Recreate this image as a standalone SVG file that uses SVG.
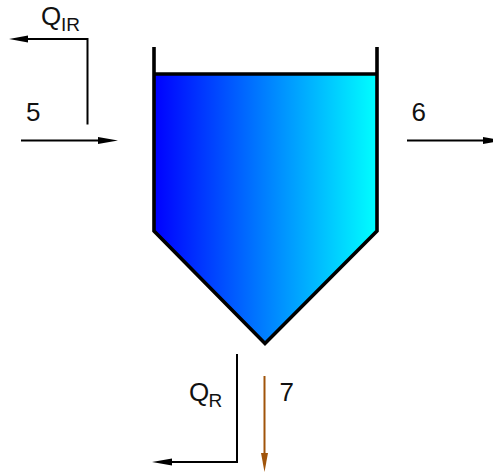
<svg xmlns="http://www.w3.org/2000/svg" width="493" height="472" viewBox="0 0 493 472">
<style>
.lbl{font-family:"Liberation Sans",Arial,sans-serif;font-size:26px;fill:#111}
.sub{font-family:"Liberation Sans",Arial,sans-serif;font-size:19px;fill:#111}
.ln{fill:none;stroke:#000;stroke-width:2}
.ah{fill:#000;stroke:none}
</style>
<defs>
<linearGradient id="g" x1="0" y1="0" x2="1" y2="0">
<stop offset="0" stop-color="#0000ff"/>
<stop offset="1" stop-color="#00ffff"/>
</linearGradient>
</defs>
<g id="tank">
<path d="M154 74H377V231L265 343.500L154 231Z" fill="url(#g)"/>
<path d="M154 47V231L265 343.500L377 231V47" fill="none" stroke="#000" stroke-width="3.600" stroke-linejoin="miter"/>
<path d="M154 74H377" fill="none" stroke="#000" stroke-width="3.400"/>
</g>
<g id="connectors">
<path class="ln" d="M87.500 124.500V39H26"/>
<path class="ah" d="M9 39L28 35.500V42.500Z"/>
<path class="ln" d="M21 140.500H100"/>
<path class="ah" d="M118 140.500L98 137V144Z"/>
<path class="ln" d="M407 140.500H485"/>
<path class="ah" d="M502 140.500L483 137V144Z"/>
<path class="ln" d="M237 354V462H170"/>
<path class="ah" d="M152 462L172 458.500V465.500Z"/>
<path d="M264.500 376V456" fill="none" stroke="#a0540a" stroke-width="2"/>
<path d="M264.500 472L261 453H268Z" fill="#a0540a"/>
</g>
<g id="label-qir"><text class="lbl" x="41" y="25">Q</text><text class="sub" x="61" y="31">IR</text></g>
<g id="label-5"><text class="lbl" x="26" y="121">5</text></g>
<g id="label-6"><text class="lbl" x="411.500" y="121">6</text></g>
<g id="label-qr"><text class="lbl" x="189" y="401">Q</text><text class="sub" x="208.500" y="407">R</text></g>
<g id="label-7"><text class="lbl" x="279.500" y="401">7</text></g>
</svg>
